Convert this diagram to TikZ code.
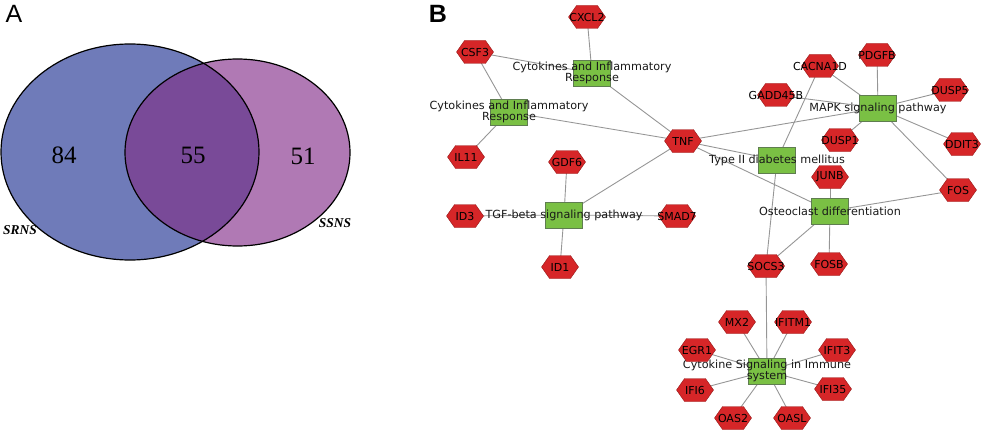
\documentclass[tikz,border=0pt]{standalone}
\usepackage{fontspec}
\newfontfamily\netfont{DejaVu Sans}
\newfontfamily\vennfont{Liberation Serif}
\newfontfamily\panelfont{Liberation Sans}
\usetikzlibrary{shapes.symbols,backgrounds}
\definecolor{srnsblue}{RGB}{111,123,185}
\definecolor{ssnspink}{RGB}{176,121,180}
\definecolor{bothpurple}{RGB}{121,74,152}
\definecolor{hexred}{RGB}{214,38,40}
\definecolor{hexborder}{RGB}{150,25,25}
\definecolor{boxgreen}{RGB}{122,192,68}
\definecolor{boxborder}{RGB}{95,125,80}
\definecolor{linkgray}{RGB}{150,150,150}

\begin{document}
\begin{tikzpicture}[x=1pt,y=-1pt,
    gene/.style={signal, signal to=east and west, signal pointer angle=110,
        draw=hexborder, fill=hexred, minimum width=37pt, minimum height=23pt, inner sep=0pt,
        font=\netfont\fontsize{11}{11}\selectfont, text=black,
        execute at begin node={\hbox to 0pt\bgroup\hss}, execute at end node={\hss\egroup}},
    pathway/.style={rectangle, draw=boxborder, fill=boxgreen, minimum width=37pt, minimum height=26pt, inner sep=0pt},
    plabel/.style={align=center, inner sep=0pt, text=black!90, font=\netfont\fontsize{11.2}{10}\selectfont},
    link/.style={draw=linkgray, line width=0.9pt}]
    \useasboundingbox (0,0) rectangle (984,433);

    % panel A
    \fill[srnsblue] (130,152) ellipse [x radius=129pt, y radius=108pt];
    \fill[ssnspink] (237.5,152.5) ellipse [x radius=112.5pt, y radius=93.5pt];
    \begin{scope}
        \clip (130,152) ellipse [x radius=129pt, y radius=108pt];
        \fill[bothpurple] (237.5,152.5) ellipse [x radius=112.5pt, y radius=93.5pt];
    \end{scope}
    \draw[line width=1.2pt] (130,152) ellipse [x radius=129pt, y radius=108pt];
    \draw[line width=1.2pt] (237.5,152.5) ellipse [x radius=112.5pt, y radius=93.5pt];

    \node[font=\panelfont\fontsize{25}{25}\selectfont] (pa) at (14,14) {A};
    \node[font=\vennfont\fontsize{25}{25}\selectfont] (n84) at (64,155) {84};
    \node[font=\vennfont\fontsize{25}{25}\selectfont] (n55) at (193,155) {55};
    \node[font=\vennfont\fontsize{25}{25}\selectfont] (n51) at (303,156) {51};
    \node[font=\vennfont\bfseries\itshape\fontsize{13.5}{13.5}\selectfont] (srns) at (20,230) {SRNS};
    \node[font=\vennfont\bfseries\itshape\fontsize{13.5}{13.5}\selectfont] (ssns) at (335,223) {SSNS};

    % panel B
    \node[font=\panelfont\bfseries\fontsize{25}{25}\selectfont] (pb) at (438,14) {B};

    \node[pathway, label={[plabel]center:Cytokines and Inflammatory\\Response}] (cyto1) at (592,73) {};
    \node[pathway, label={[plabel]center:Cytokines and Inflammatory\\Response}] (cyto2) at (509,112) {};
    \node[pathway, label={[plabel]center:TGF-beta signaling pathway}] (tgf) at (564,215) {};
    \node[pathway, label={[plabel]center:MAPK signaling pathway}] (mapk) at (878,108) {};
    \node[pathway, label={[plabel]center:Type II diabetes mellitus}] (t2d) at (777,160) {};
    \node[pathway, label={[plabel]center:Osteoclast differentiation}] (osteo) at (830,211) {};
    \node[pathway, label={[plabel]center:Cytokine Signaling in Immune\\system}] (immune) at (767,371) {};

    \node[gene] (cxcl2) at (587,17) {CXCL2};
    \node[gene] (csf3) at (475,52) {CSF3};
    \node[gene] (il11) at (466,157) {IL11};
    \node[gene] (tnf) at (683,141) {TNF};
    \node[gene] (gdf6) at (567,162) {GDF6};
    \node[gene] (id3) at (465,216) {ID3};
    \node[gene] (smad7) at (677,216) {SMAD7};
    \node[gene] (id1) at (560,267) {ID1};
    \node[gene] (pdgfb) at (877,55) {PDGFB};
    \node[gene] (cacna1d) at (820,66) {CACNA1D};
    \node[gene] (gadd45b) at (776,95) {GADD45B};
    \node[gene] (dusp5) at (950,90) {DUSP5};
    \node[gene] (dusp1) at (840,140) {DUSP1};
    \node[gene] (ddit3) at (962,144) {DDIT3};
    \node[gene] (junb) at (830,177) {JUNB};
    \node[gene] (fos) at (958,190) {FOS};
    \node[gene] (socs3) at (766,266) {SOCS3};
    \node[gene] (fosb) at (829,264) {FOSB};
    \node[gene] (mx2) at (737,322) {MX2};
    \node[gene] (ifitm1) at (793,322) {IFITM1};
    \node[gene] (egr1) at (697,350) {EGR1};
    \node[gene] (ifit3) at (837,350) {IFIT3};
    \node[gene] (ifi6) at (695,390) {IFI6};
    \node[gene] (ifi35) at (833,389) {IFI35};
    \node[gene] (oas2) at (733,418) {OAS2};
    \node[gene] (oasl) at (792,418) {OASL};

    \begin{scope}[on background layer]
        \foreach \a/\b in {cxcl2/cyto1, csf3/cyto1, csf3/cyto2, il11/cyto2, cyto1/tnf, cyto2/tnf,
            tnf/tgf, tnf/mapk, tnf/t2d, tnf/osteo, gdf6/tgf, id3/tgf, smad7/tgf, id1/tgf,
            pdgfb/mapk, cacna1d/mapk, cacna1d/t2d, gadd45b/mapk, dusp5/mapk, dusp1/mapk, ddit3/mapk,
            fos/mapk, fos/osteo, junb/osteo, fosb/osteo, socs3/osteo, socs3/t2d, socs3/immune,
            mx2/immune, ifitm1/immune, egr1/immune, ifit3/immune, ifi6/immune, ifi35/immune,
            oas2/immune, oasl/immune}
            \draw[link] (\a.center) -- (\b.center);
    \end{scope}
\end{tikzpicture}
\end{document}
